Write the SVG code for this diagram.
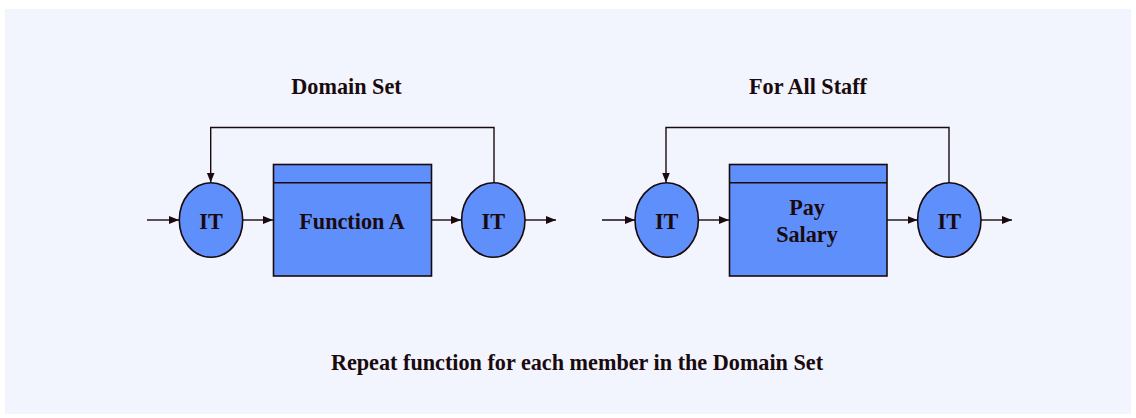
<svg xmlns="http://www.w3.org/2000/svg" width="1136" height="418" viewBox="0 0 1136 418">
<style>
.t{font-family:"Liberation Serif","Times New Roman",serif;font-weight:bold;font-size:22.2px;fill:#1a0a0e;text-anchor:middle}
.sh{fill:#5f8ffb;stroke:#1a0a0e;stroke-width:1.6}
.ln{fill:none;stroke:#1a0a0e;stroke-width:1.4}
</style>
<defs>
<marker id="ah" viewBox="0 0 10 10" refX="10" refY="5" markerWidth="10" markerHeight="10" markerUnits="userSpaceOnUse" orient="auto">
<path d="M0,1 L10,5 L0,9 z" fill="#1a0a0e"/>
</marker>
</defs>
<rect x="5" y="9" width="1126" height="405" fill="#f2f5fe"/>
<text class="t" x="346.5" y="94">Domain Set</text>
<text class="t" x="808" y="94">For All Staff</text>
<text class="t" x="577" y="370">Repeat function for each member in the Domain Set</text>
<g id="connectors">
<line class="ln" x1="147" y1="220" x2="179" y2="220" marker-end="url(#ah)"/>
<line class="ln" x1="243" y1="220" x2="273" y2="220" marker-end="url(#ah)"/>
<line class="ln" x1="432" y1="220" x2="461" y2="220" marker-end="url(#ah)"/>
<line class="ln" x1="525" y1="220" x2="556" y2="220" marker-end="url(#ah)"/>
<polyline class="ln" points="494,183 494,127.5 210.7,127.5 210.7,182.5" marker-end="url(#ah)"/>
<line class="ln" x1="602" y1="220" x2="635" y2="220" marker-end="url(#ah)"/>
<line class="ln" x1="698.5" y1="220" x2="729" y2="220" marker-end="url(#ah)"/>
<line class="ln" x1="887" y1="220" x2="917.5" y2="220" marker-end="url(#ah)"/>
<line class="ln" x1="981" y1="220" x2="1012" y2="220" marker-end="url(#ah)"/>
<polyline class="ln" points="949,183 949,127.5 666,127.5 666,182.5" marker-end="url(#ah)"/>
</g>
<g id="it1">
<ellipse class="sh" cx="211" cy="220" rx="31.7" ry="37.3"/>
<text class="t" x="211" y="229">IT</text>
</g>
<g id="funcA">
<rect class="sh" x="273.5" y="164.5" width="158" height="111.5"/>
<line class="ln" x1="273.5" y1="182.7" x2="431.5" y2="182.7" stroke-width="1.6"/>
<text class="t" x="352" y="229">Function A</text>
</g>
<g id="it2">
<ellipse class="sh" cx="493.3" cy="220" rx="31.7" ry="37.3"/>
<text class="t" x="493.3" y="229">IT</text>
</g>
<g id="it3">
<ellipse class="sh" cx="666.7" cy="220" rx="31.7" ry="37.3"/>
<text class="t" x="666.7" y="229">IT</text>
</g>
<g id="paySalary">
<rect class="sh" x="729.5" y="164.5" width="157.5" height="111.5"/>
<line class="ln" x1="729.5" y1="182.7" x2="887" y2="182.7" stroke-width="1.6"/>
<text class="t" x="807" y="215">Pay</text>
<text class="t" x="807" y="242">Salary</text>
</g>
<g id="it4">
<ellipse class="sh" cx="949.3" cy="220" rx="31.7" ry="37.3"/>
<text class="t" x="949.3" y="229">IT</text>
</g>
</svg>
